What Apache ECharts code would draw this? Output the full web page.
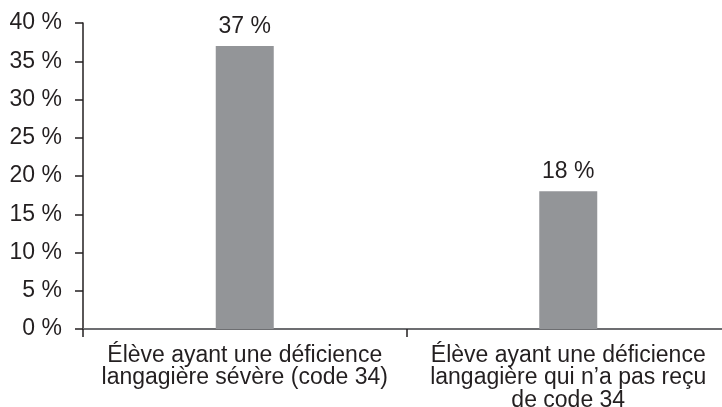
<!DOCTYPE html>
<html>
<head>
<meta charset="utf-8">
<script src="https://cdn.jsdelivr.net/npm/echarts@6/dist/echarts.min.js"></script>
<style>html,body{margin:0;padding:0;background:#fff}#c{width:722px;height:407px}</style>
</head>
<body>
<div id="c"></div>
<script>
var categories = [
  "Élève ayant une déficience\nlangagière sévère (code 34)",
  "Élève ayant une déficience\nlangagière qui n’a pas reçu\nde code 34"
];
var values = [37, 18];
var yMin = 0, yMax = 40, yStep = 5;

var chart = echarts.init(document.getElementById('c'), null, {renderer: 'canvas'});
var font = '"Liberation Sans", Arial, sans-serif';
var textColor = '#231f20';
chart.setOption({
  animation: false,
  backgroundColor: '#ffffff',
  grid: {left: 83, right: -8, top: 23, bottom: 78, containLabel: false, outerBoundsMode: 'none'},
  xAxis: {
    type: 'category',
    data: categories,
    boundaryGap: true,
    axisLine: {show: true, lineStyle: {color: '#6d6e71', width: 2}},
    axisTick: {show: true, length: 8, alignWithLabel: false, lineStyle: {color: '#231f20', width: 1.5}},
    axisLabel: {
      interval: 0, margin: 15, color: textColor, fontFamily: font, fontSize: 23,
      lineHeight: 22.5, align: 'center'
    },
    splitLine: {show: false}
  },
  yAxis: {
    type: 'value',
    min: yMin, max: yMax, interval: yStep,
    axisLine: {show: true, lineStyle: {color: '#231f20', width: 1.5}},
    axisTick: {show: true, length: 8, lineStyle: {color: '#231f20', width: 1.5}},
    axisLabel: {margin: 21, color: textColor, fontFamily: font, fontSize: 23, formatter: '{value} %'},
    splitLine: {show: false}
  },
  series: [{
    type: 'bar',
    data: values,
    barWidth: 58,
    itemStyle: {color: '#939598'},
    label: {
      show: true, position: 'top', distance: 8,
      color: textColor, fontFamily: font, fontSize: 23,
      formatter: '{c} %'
    }
  }]
});
</script>
</body>
</html>
